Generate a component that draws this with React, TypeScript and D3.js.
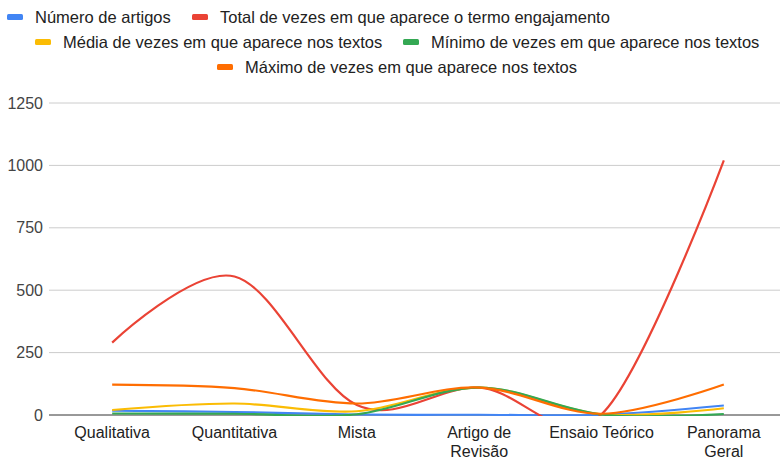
import React, { useEffect, useRef } from 'react';
import * as d3 from 'd3';

const categories = ['Qualitativa', 'Quantitativa', 'Mista', 'Artigo de Revisão', 'Ensaio Teórico', 'Panorama Geral'];
const categoryLines = [['Qualitativa'], ['Quantitativa'], ['Mista'], ['Artigo de', 'Revisão'], ['Ensaio Teórico'], ['Panorama', 'Geral']];

const numeroArtigos = [17, 12, 2, 1, 1, 38];
const totalVezes = [290, 555, 40, 110, 3, 1020];
const mediaVezes = [20, 46, 15, 110, 3, 27];
const minimoVezes = [6, 5, 3, 110, 2, 4];
const maximoVezes = [122, 108, 46, 110, 5, 122];

const seriesNames = [
    'Número de artigos',
    'Total de vezes em que aparece o termo engajamento',
    'Média de vezes em que aparece nos textos',
    'Mínimo de vezes em que aparece nos textos',
    'Máximo de vezes em que aparece nos textos',
];
const seriesColors = ['#4285f4', '#ea4335', '#fbbc04', '#34a853', '#ff6d01'];
const yTicks = [0, 250, 500, 750, 1000, 1250];

const App = () => {
    const ref = useRef<HTMLDivElement>(null);

    useEffect(() => {
        if (!ref.current) return;
        d3.select(ref.current).selectAll('*').remove();

        const width = 780;
        const height = 458;
        const left = 49;
        const right = 780;
        const top = 103;
        const bottom = 415;
        const font = 'Arial, "Liberation Sans", sans-serif';

        const svg = d3.select(ref.current)
            .append('svg')
            .attr('width', width)
            .attr('height', height)
            .style('display', 'block')
            .style('font-family', font);

        const x = d3.scalePoint<string>()
            .domain(categories)
            .range([51, 785])
            .padding(0.5);

        const y = d3.scaleLinear()
            .domain([0, 1250])
            .range([bottom, top]);

        // gridlines + y labels
        svg.append('g')
            .selectAll('line')
            .data(yTicks)
            .enter()
            .append('line')
            .attr('x1', left)
            .attr('x2', right)
            .attr('y1', d => y(d))
            .attr('y2', d => y(d))
            .attr('stroke', d => d === 0 ? '#333333' : '#cccccc')
            .attr('stroke-width', 1);

        svg.append('g')
            .selectAll('text')
            .data(yTicks)
            .enter()
            .append('text')
            .attr('x', 43)
            .attr('y', d => y(d))
            .attr('dy', '0.35em')
            .attr('text-anchor', 'end')
            .attr('font-size', 16)
            .attr('fill', '#444444')
            .text(d => d);

        // x labels
        const xl = svg.append('g')
            .selectAll('text')
            .data(categories)
            .enter()
            .append('text')
            .attr('text-anchor', 'middle')
            .attr('font-size', 16)
            .attr('fill', '#222222');
        xl.each(function (d, i) {
            const t = d3.select(this);
            categoryLines[i].forEach((ln, j) => {
                t.append('tspan')
                    .attr('x', x(d) as number)
                    .attr('y', 438 + j * 19)
                    .text(ln);
            });
        });

        svg.append('defs')
            .append('clipPath')
            .attr('id', 'plotclip')
            .append('rect')
            .attr('x', 0)
            .attr('y', 0)
            .attr('width', width)
            .attr('height', bottom + 1);

        const allSeries = [numeroArtigos, totalVezes, mediaVezes, minimoVezes, maximoVezes];

        const line = d3.line<number>()
            .x((d, i) => x(categories[i]) as number)
            .y(d => y(d))
            .curve(d3.curveCatmullRom.alpha(0));

        svg.append('g')
            .attr('clip-path', 'url(#plotclip)')
            .selectAll('path')
            .data(allSeries)
            .enter()
            .append('path')
            .attr('d', d => line(d))
            .attr('fill', 'none')
            .attr('stroke', (d, i) => seriesColors[i])
            .attr('stroke-width', 2.2);

        // legend
        const legendItems = [
            { x: 7, y: 17 },
            { x: 192, y: 17 },
            { x: 35, y: 42 },
            { x: 403, y: 42 },
            { x: 217, y: 67 },
        ];
        const lg = svg.append('g')
            .selectAll('g')
            .data(seriesNames)
            .enter()
            .append('g')
            .attr('transform', (d, i) => `translate(${legendItems[i].x}, ${legendItems[i].y})`);
        lg.append('rect')
            .attr('x', 0)
            .attr('y', -3)
            .attr('width', 16)
            .attr('height', 6)
            .attr('rx', 1.5)
            .attr('fill', (d, i) => seriesColors[i]);
        lg.append('text')
            .attr('x', 28)
            .attr('y', 0)
            .attr('dy', '0.35em')
            .attr('font-size', 16.5)
            .attr('fill', '#222222')
            .text(d => d);
    }, []);

    return <div ref={ref} style={{ position: 'absolute', left: 0, top: 0 }}></div>;
};

export default App;
